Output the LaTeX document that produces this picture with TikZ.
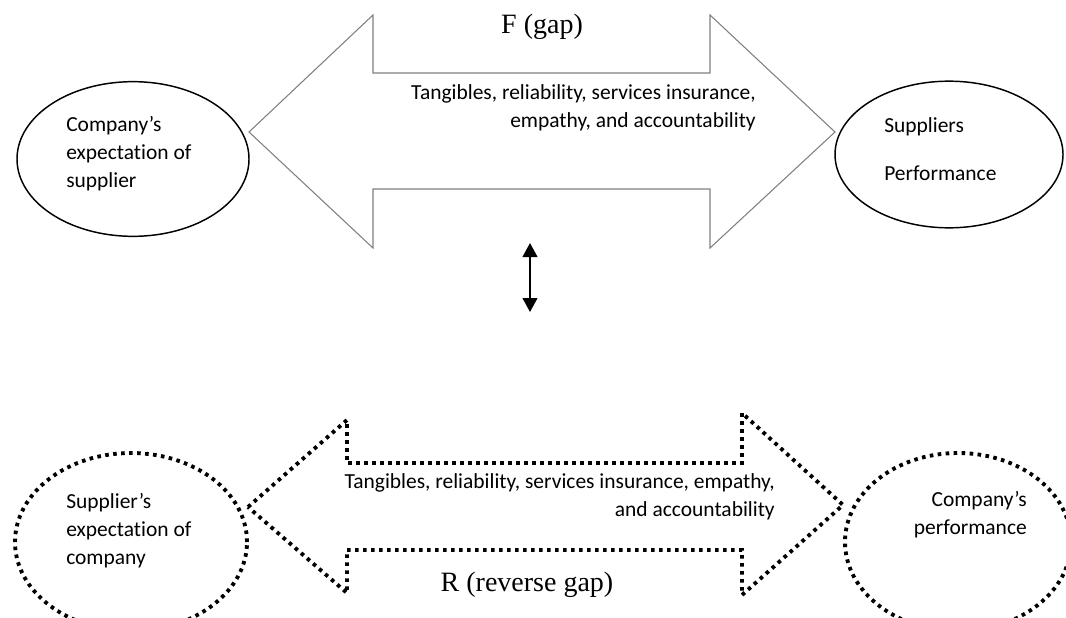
\documentclass[tikz,border=0pt]{standalone}
\usepackage{fontspec}
\setmainfont{Liberation Serif}
\newfontfamily\calfont[Ligatures=NoCommon]{Carlito}
\usetikzlibrary{shapes.geometric,arrows.meta}
\begin{document}
\begin{tikzpicture}[x=0.75pt,y=-0.75pt,
  lbl/.style={font=\calfont\fontsize{16.1}{21}\selectfont, inner sep=0pt},
  title/.style={font=\fontsize{21}{25}\selectfont, inner sep=0pt},
  solidell/.style={draw=black, line width=1.1pt, ellipse, inner sep=0pt},
  dotell/.style={draw=black, ellipse, inner sep=0pt, line width=2.9pt, dash pattern=on 2.7pt off 3.3pt},
  grayarrow/.style={draw={rgb,255:red,128;green,128;blue,128}, line width=0.8pt, line join=miter},
  dotarrow/.style={draw=black, line width=2.9pt, dash pattern=on 2.7pt off 3.3pt},
  midarrow/.style={line width=1.5pt, {Triangle[width=11pt,length=10.5pt]}-{Triangle[width=11pt,length=10.5pt]}}
]
\useasboundingbox (0,0) rectangle (1066,617);
\clip (0,0) rectangle (1066,617);

% top double arrow (grey outline)
\draw[grayarrow] (249,132) -- (373,15) -- (373,73) -- (710,73) -- (710,15) -- (835,132)
  -- (710,248) -- (710,189) -- (373,189) -- (373,248) -- cycle;

% top ellipses
\node[solidell, minimum width=174pt, minimum height=116pt] (ce) at (133,159) {};
\node[solidell, minimum width=171pt, minimum height=110pt] (sp) at (949,154.5) {};

% top texts
\node[title] (fgap) at (542,27) {F (gap)};
\node[lbl, align=right, anchor=east] (topdims) at (756,108)
  {Tangibles, reliability, services insurance,\\empathy, and accountability};
\node[lbl, align=left, anchor=west] (cetext) at (66,154)
  {Company’s\\expectation of\\supplier};
\node[lbl, align=left, anchor=west] (sptext) at (884,149)
  {Suppliers\\[15pt]Performance};

% middle double arrow
\coordinate (mt) at (530,243);
\coordinate (mb) at (530,312);
\draw[midarrow] (mt) -- (mb);

% bottom ellipses
\node[dotell, minimum width=174pt, minimum height=133.5pt] (se) at (131,542) {};
\node[dotell, minimum width=169.5pt, minimum height=133.5pt] (cp) at (958,542) {};

% bottom double arrow (dotted)
\draw[dotarrow] (248,507) -- (347,420) -- (347,463) -- (742,463) -- (742,413) -- (843,505)
  -- (742,595) -- (742,550) -- (347,550) -- (347,593) -- cycle;

% bottom texts
\node[lbl, align=right, anchor=east] (botdims) at (775,497)
  {Tangibles, reliability, services insurance, empathy,\\and accountability};
\node[title] (rgap) at (527,585) {R (reverse gap)};
\node[lbl, align=left, anchor=west] (setext) at (66,531)
  {Supplier’s\\expectation of\\company};
\node[lbl, align=right, anchor=east] (cptext) at (1027,514.5)
  {Company’s\\performance};
\end{tikzpicture}
\end{document}
